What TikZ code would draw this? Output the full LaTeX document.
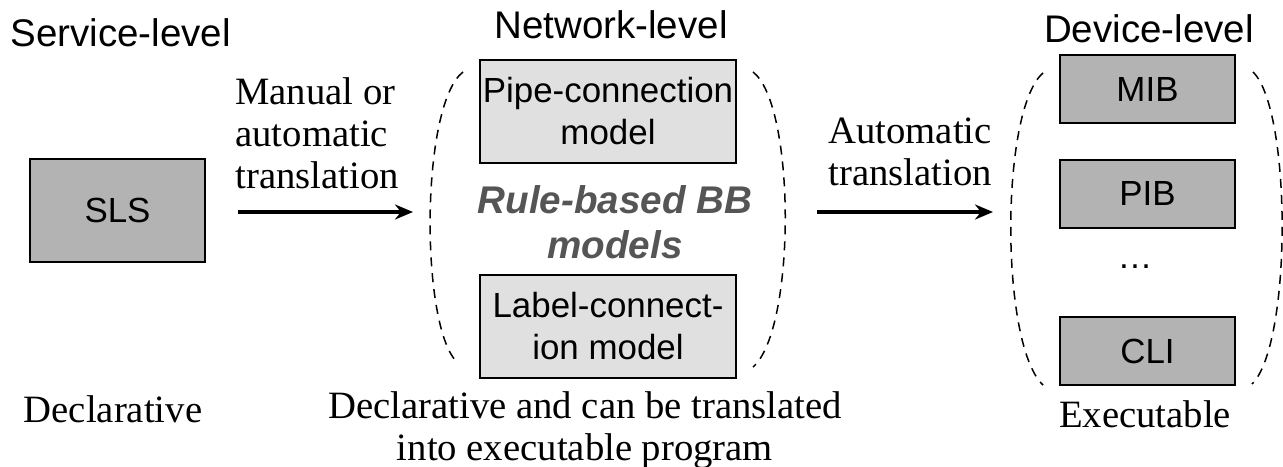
\documentclass[tikz,border=0pt]{standalone}
\usepackage{fontspec}
\setmainfont{Liberation Serif}
\newfontfamily\arialfont{Liberation Sans}
\usetikzlibrary{arrows.meta}
\definecolor{boxdark}{RGB}{179,179,179}
\definecolor{boxlight}{RGB}{224,224,224}
\definecolor{ruletext}{RGB}{85,85,85}
\tikzset{
    heading/.style={font=\arialfont\fontsize{19.25}{23}\selectfont, inner sep=0pt},
    note/.style={font=\fontsize{19.35}{21}\selectfont, inner sep=0pt},
    darkbox/.style={draw=black, line width=1pt, fill=boxdark, font=\arialfont\fontsize{17.45}{21}\selectfont, minimum width=87.5pt, minimum height=51.5pt, inner sep=0pt},
    devbox/.style={darkbox, minimum height=34pt},
    lightbox/.style={darkbox, fill=boxlight, minimum width=128pt, align=center},
    flow/.style={line width=2pt, -{Stealth[length=9pt, width=7.5pt]}},
    bracket/.style={line width=0.75pt, dash pattern=on 4.5pt off 3.5pt}
}
\begin{document}
\begin{tikzpicture}[x=0.5pt, y=-0.5pt]
    \useasboundingbox (0,0) rectangle (1283,466);
    \node[heading, anchor=base west] (service) at (10,46) {Service-level};
    \node[heading, anchor=base] (network) at (611,38) {Network-level};
    \node[heading, anchor=base] (device) at (1149,42) {Device-level};

    \node[darkbox] (sls) at (117.5,210.5) {SLS};
    \node[lightbox] (pipe) at (608,111.5) {Pipe-connection\\model};
    \node[lightbox] (label) at (608,326.5) {Label-connect-\\ion model};
    \node[font=\arialfont\bfseries\itshape\fontsize{19.3}{22.5}\selectfont, text=ruletext, align=center, inner sep=0pt, anchor=base] (rulebb) at (615,258) {Rule-based BB\\models};

    \node[devbox] (mib) at (1147.5,89) {MIB};
    \node[devbox] (pib) at (1147.5,193.5) {PIB};
    \node[font=\arialfont\fontsize{17.45}{21}\selectfont, inner sep=0pt, anchor=base] (dots) at (1135,268) {…};
    \node[devbox] (cli) at (1147.5,351) {CLI};

    \node[note, align=left, anchor=base west] (manual) at (235,188) {Manual or\\automatic\\translation};
    \node[note, align=left, anchor=base west] (auto) at (828,185) {Automatic\\translation};

    \coordinate (leftstart) at (238,212);
    \coordinate (leftend) at (413,212);
    \coordinate (rightstart) at (817,212);
    \coordinate (rightend) at (993,212);
    \draw[flow] (leftstart) -- (leftend);
    \draw[flow] (rightstart) -- (rightend);

    \draw[bracket] (463,72) .. controls (420,105) and (420,330) .. (458,363);
    \draw[bracket] (753,72) .. controls (796,105) and (796,330) .. (753,367);
    \draw[bracket] (1043,73) .. controls (1000,110) and (1000,345) .. (1043,385);
    \draw[bracket] (1253,72) .. controls (1292,110) and (1292,345) .. (1252,384);

    \node[note, anchor=base] (decl) at (113,422) {Declarative};
    \node[note, align=center, anchor=base] (declexec) at (585,460) {Declarative and can be translated\\into executable program};
    \node[note, anchor=base] (exec) at (1145,427) {Executable};
\end{tikzpicture}
\end{document}
